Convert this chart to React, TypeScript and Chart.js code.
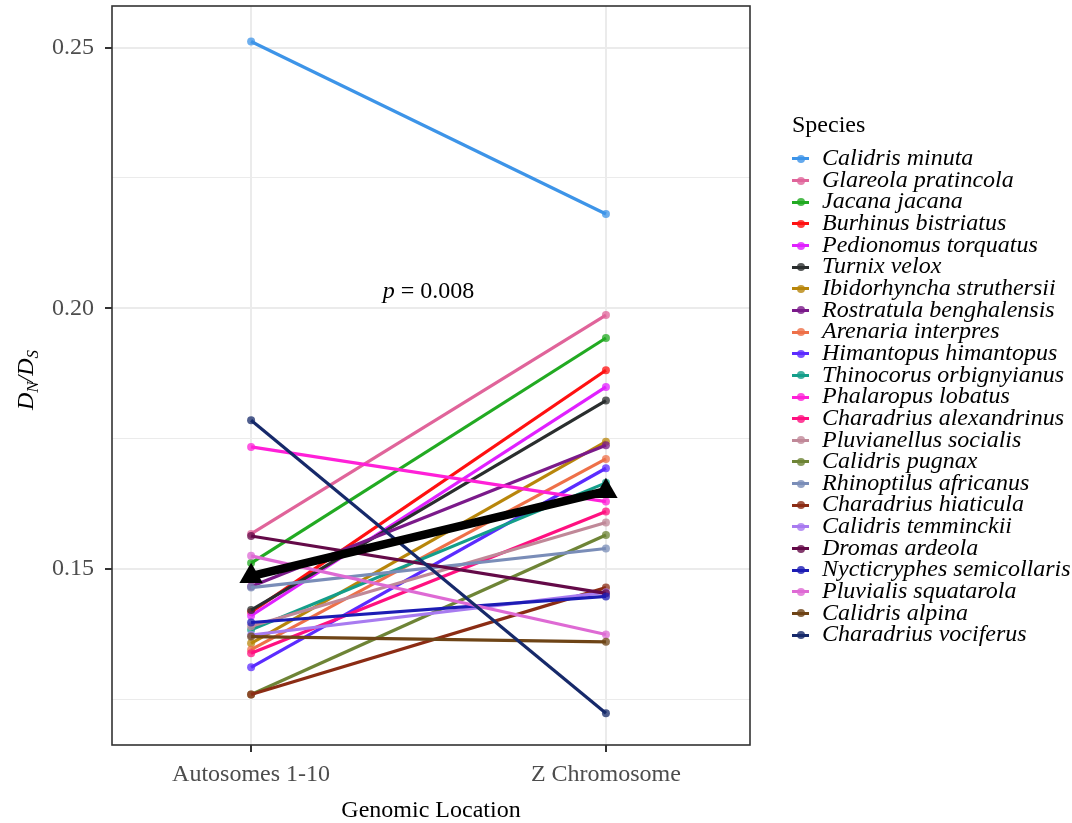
import React, { useEffect, useRef } from 'react';
import { Chart, registerables } from 'chart.js';

Chart.register(...registerables);

// ---------- data ----------
const categories = ['Autosomes 1-10', 'Z Chromosome'];

const species = [
  'Calidris minuta',
  'Glareola pratincola',
  'Jacana jacana',
  'Burhinus bistriatus',
  'Pedionomus torquatus',
  'Turnix velox',
  'Ibidorhyncha struthersii',
  'Rostratula benghalensis',
  'Arenaria interpres',
  'Himantopus himantopus',
  'Thinocorus orbignyianus',
  'Phalaropus lobatus',
  'Charadrius alexandrinus',
  'Pluvianellus socialis',
  'Calidris pugnax',
  'Rhinoptilus africanus',
  'Charadrius hiaticula',
  'Calidris temminckii',
  'Dromas ardeola',
  'Nycticryphes semicollaris',
  'Pluvialis squatarola',
  'Calidris alpina',
  'Charadrius vociferus',
];

const autosomeValues = [
  0.2512, 0.1567, 0.1511, 0.1417, 0.141, 0.1421, 0.1357, 0.1466, 0.1345, 0.1311, 0.1383, 0.1734,
  0.1338, 0.139, 0.1259, 0.1464, 0.1259, 0.1373, 0.1563, 0.1397, 0.1525, 0.137, 0.1785,
];

const zValues = [
  0.2181, 0.1987, 0.1943, 0.1881, 0.1849, 0.1823, 0.1744, 0.1737, 0.1711, 0.1693, 0.1665, 0.1629,
  0.161, 0.1589, 0.1565, 0.1539, 0.1464, 0.1455, 0.1453, 0.1447, 0.1374, 0.136, 0.1223,
];

const speciesColors = [
  '#3D94E8', '#E0649A', '#22AA22', '#FF1010', '#E020FF', '#2A2E2E', '#B8860B', '#7B1A8A',
  '#EE7048', '#5B2BFF', '#149E8A', '#FF20D8', '#FF1080', '#C08898', '#6E8436', '#7A8DB8',
  '#8B2C14', '#A87BF0', '#640A48', '#1C1CB4', '#DE6AD4', '#6E4416', '#16296A',
];

const meanValues = [0.1486, 0.1649];

const yTicks = [0.125, 0.15, 0.175, 0.2, 0.225, 0.25];
const yLabelledTicks = [0.15, 0.2, 0.25];
const pValueText = '0.008';

// ---------- styling ----------
const FONT = '"Liberation Serif", "DejaVu Serif", "Times New Roman", serif';
const W = 1072;
const H = 823;
const LEGEND_X = 792;
const LEGEND_FIRST_Y = 159;
const LEGEND_STEP = 21.64;

function withAlpha(hex: string, a: number) {
  const n = parseInt(hex.slice(1), 16);
  return `rgba(${(n >> 16) & 255},${(n >> 8) & 255},${n & 255},${a})`;
}

const isMajor = (v: number) => yLabelledTicks.some((t) => Math.abs(t - v) < 1e-9);

export default function App() {
  const canvasRef = useRef<HTMLCanvasElement>(null);

  useEffect(() => {
    const canvas = canvasRef.current;
    if (!canvas) return;

    const speciesDatasets = species.map((name, i) => ({
      label: name,
      data: [
        { x: 1, y: autosomeValues[i] },
        { x: 2, y: zValues[i] },
      ],
      borderColor: speciesColors[i],
      backgroundColor: withAlpha(speciesColors[i], 0.75),
      pointBackgroundColor: withAlpha(speciesColors[i], 0.75),
      pointBorderColor: withAlpha(speciesColors[i], 0.75),
      pointBorderWidth: 0,
      pointRadius: 4,
      borderWidth: 3.2,
      tension: 0,
      order: species.length - i,
    }));

    const meanDataset = {
      label: 'Mean',
      data: [
        { x: 1, y: meanValues[0] },
        { x: 2, y: meanValues[1] },
      ],
      borderColor: '#000000',
      backgroundColor: '#000000',
      pointBackgroundColor: '#000000',
      pointBorderColor: '#000000',
      pointStyle: 'triangle',
      pointRadius: 13.5,
      pointBorderWidth: 0,
      borderWidth: 8.5,
      order: 0,
    };

    const frame = {
      id: 'panelFrame',
      afterDraw(chart: any) {
        const { ctx, chartArea } = chart;
        ctx.save();
        ctx.strokeStyle = '#333333';
        ctx.lineWidth = 1.6;
        ctx.strokeRect(chartArea.left, chartArea.top, chartArea.right - chartArea.left, chartArea.bottom - chartArea.top);
        ctx.restore();
      },
    };

    const yTitle = {
      id: 'yTitle',
      afterDraw(chart: any) {
        const { ctx, chartArea } = chart;
        const big = `italic 24px ${FONT}`;
        const small = `italic 17px ${FONT}`;
        const parts: [string, string, number][] = [
          ['D', big, 0],
          ['N', small, 5],
          ['/', big, 0],
          ['D', big, 0],
          ['S', small, 5],
        ];
        ctx.save();
        let total = 0;
        const widths = parts.map(([t, f]) => {
          ctx.font = f;
          const w = ctx.measureText(t).width;
          total += w;
          return w;
        });
        const cy = (chartArea.top + chartArea.bottom) / 2 + 4;
        ctx.translate(33, cy);
        ctx.rotate(-Math.PI / 2);
        ctx.fillStyle = '#000000';
        ctx.textBaseline = 'alphabetic';
        ctx.textAlign = 'left';
        let x = -total / 2;
        parts.forEach(([t, f, dy], k) => {
          ctx.font = f;
          ctx.fillText(t, x, dy);
          x += widths[k] - (t === 'N' ? 1 : 0);
        });
        ctx.restore();
      },
    };

    const pLabel = {
      id: 'pLabel',
      afterDatasetsDraw(chart: any) {
        const { ctx, scales } = chart;
        const cx = scales.x.getPixelForValue(1.5);
        const by = scales.y.getPixelForValue(0.202);
        ctx.save();
        ctx.fillStyle = '#000000';
        ctx.textBaseline = 'alphabetic';
        ctx.textAlign = 'left';
        ctx.font = `italic 24px ${FONT}`;
        const wp = ctx.measureText('p').width;
        ctx.font = `24px ${FONT}`;
        const rest = ' = ' + pValueText;
        const wr = ctx.measureText(rest).width;
        const x0 = cx - (wp + wr) / 2;
        ctx.font = `italic 24px ${FONT}`;
        ctx.fillText('p', x0, by);
        ctx.font = `24px ${FONT}`;
        ctx.fillText(rest, x0 + wp, by);
        ctx.restore();
      },
    };

    const chart = new Chart(canvas, {
      type: 'line',
      data: { datasets: [...speciesDatasets, meanDataset] as any },
      options: {
        animation: false,
        responsive: false,
        devicePixelRatio: 1,
        events: [],
        layout: { autoPadding: false, padding: { left: 0, right: 322, top: 6, bottom: 0 } },
        plugins: {
          legend: { display: false },
          tooltip: { enabled: false },
          title: { display: false },
        },
        scales: {
          x: {
            type: 'linear',
            min: 0.608,
            max: 2.406,
            afterBuildTicks: (scale: any) => {
              scale.ticks = [{ value: 1 }, { value: 2 }];
            },
            afterFit: (scale: any) => {
              scale.height = 78;
              scale.paddingLeft = 0;
              scale.paddingRight = 0;
              scale.paddingTop = 0;
              scale.paddingBottom = 0;
            },
            border: { display: false },
            grid: {
              color: '#EBEBEB',
              lineWidth: 2,
              tickColor: '#333333',
              tickLength: 7,
              tickWidth: 2,
            },
            ticks: {
              autoSkip: false,
              maxRotation: 0,
              padding: 8,
              color: '#4D4D4D',
              font: { family: FONT, size: 24 },
              callback: (v: any) => categories[Math.round(Number(v)) - 1] ?? '',
            },
            title: {
              display: true,
              text: 'Genomic Location',
              color: '#000000',
              font: { family: FONT, size: 24 },
              padding: { top: 0, bottom: -2 },
            },
          },
          y: {
            type: 'linear',
            min: 0.1162,
            max: 0.258,
            afterBuildTicks: (scale: any) => {
              scale.ticks = yTicks.map((v) => ({ value: v }));
            },
            afterFit: (scale: any) => {
              scale.width = 112;
              scale.paddingTop = 0;
              scale.paddingBottom = 0;
              scale.paddingLeft = 0;
              scale.paddingRight = 0;
            },
            border: { display: false },
            grid: {
              color: '#EBEBEB',
              lineWidth: (ctx: any) => (ctx.tick && isMajor(ctx.tick.value) ? 2 : 1),
              tickColor: (ctx: any) => (ctx.tick && isMajor(ctx.tick.value) ? '#333333' : 'rgba(0,0,0,0)'),
              tickLength: 7,
              tickWidth: 2,
            },
            ticks: {
              autoSkip: false,
              padding: 11,
              color: '#4D4D4D',
              font: { family: FONT, size: 24 },
              callback: (v: any) => (isMajor(Number(v)) ? Number(v).toFixed(2) : ''),
            },
          },
        },
      },
      plugins: [frame, yTitle, pLabel],
    });

    return () => chart.destroy();
  }, []);

  return (
    <div style={{ position: 'absolute', left: 0, top: 0, width: W, height: H, background: '#ffffff' }}>
      <canvas ref={canvasRef} width={W} height={H} style={{ position: 'absolute', left: 0, top: 0, width: W, height: H }} />
      <div
        style={{
          position: 'absolute',
          left: LEGEND_X,
          top: 112,
          font: `24px ${FONT}`,
          lineHeight: '24px',
          color: '#000000',
          whiteSpace: 'nowrap',
        }}
      >
        Species
      </div>
      {species.map((name, i) => {
        const cy = LEGEND_FIRST_Y + LEGEND_STEP * i;
        return (
          <div
            key={name}
            style={{
              position: 'absolute',
              left: LEGEND_X,
              top: cy - LEGEND_STEP / 2,
              height: LEGEND_STEP,
              width: 280,
            }}
          >
            <div
              style={{
                position: 'absolute',
                left: 0,
                top: LEGEND_STEP / 2 - 1.5,
                width: 17,
                height: 3,
                background: speciesColors[i],
              }}
            />
            <div
              style={{
                position: 'absolute',
                left: 4.5,
                top: LEGEND_STEP / 2 - 4,
                width: 8,
                height: 8,
                borderRadius: 4,
                background: withAlpha(speciesColors[i], 0.8),
              }}
            />
            <span
              style={{
                position: 'absolute',
                left: 30,
                top: -1,
                font: `italic 24px ${FONT}`,
                lineHeight: `${LEGEND_STEP}px`,
                color: '#000000',
                whiteSpace: 'nowrap',
              }}
            >
              {name}
            </span>
          </div>
        );
      })}
    </div>
  );
}
